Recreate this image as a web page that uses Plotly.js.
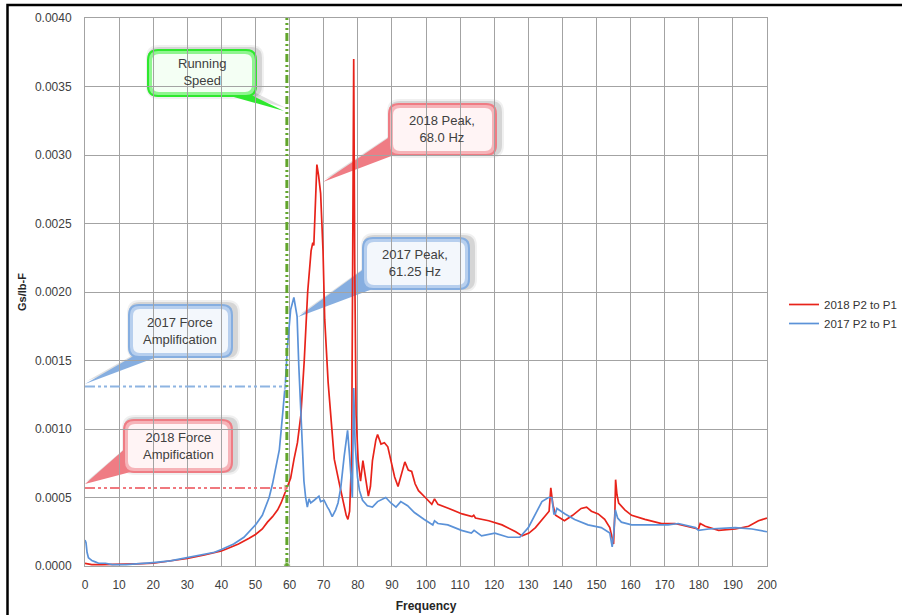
<!DOCTYPE html>
<html><head><meta charset="utf-8">
<script src="https://cdn.plot.ly/plotly-3.0.1.min.js"></script>
<style>html,body{margin:0;padding:0;background:#fff}#chart{width:902px;height:615px}</style>
</head><body><div id="chart"></div>
<script>
// ---------------- data ----------------
const seriesNames = ['2018 P2 to P1', '2017 P2 to P1'];

const freq2018 = [0,1,2,5,10,15,20,25,30,35,
  40,42,45,48,50,52,53.5,55,56.5,57.5,
  58.5,59.5,60.3,61.3,62.3,63.3,64.3,65.3,66.3,66.8,
  67.1,67.5,68,68.5,69.1,69.8,70.3,71.3,72.3,73.1,
  74.6,75.6,76.6,77.1,77.6,78.2,78.6,78.8,79.1,79.5,
  80.1,80.8,81.5,82.4,83.1,83.7,84.3,85.3,85.8,86.8,
  87.8,88.8,89.8,90.8,91.8,92.8,93.8,94.8,95.8,96.8,
  97.8,99.8,101.7,102.5,103.5,106.7,110.6,113.5,114,114.5,
  118.4,122.3,126.3,128.2,130.2,132.1,134.1,136.1,136.6,137.2,
  138,140.6,143,145.5,147.1,148.5,150.5,152.4,153.9,154.6,
  155,155.4,155.6,156,156.5,158.3,160.3,164.2,169.1,173,
  177,179.9,180.4,181.9,185.8,190.7,194.6,197.5,200];
const gain2018 = [0.00002,0.000015,0.00001,0.00001,0.00001,0.000015,0.00002,0.000035,0.000055,0.00008,
  0.00011,0.00013,0.00016,0.0002,0.00023,0.00027,0.00032,0.00036,0.00041,0.00046,
  0.00052,0.00058,0.00064,0.00078,0.0009,0.0011,0.0015,0.002,0.0023,0.00236,
  0.00234,0.0026,0.00293,0.00285,0.00272,0.0023,0.0018,0.00134,0.001,0.00078,
  0.0006,0.00048,0.00037,0.00034,0.0004,0.0008,0.0025,0.0037,0.0022,0.0011,
  0.00077,0.00062,0.00077,0.00061,0.00051,0.00058,0.00077,0.00092,0.00096,0.00089,
  0.0009,0.00087,0.00077,0.00065,0.00058,0.00067,0.00076,0.0007,0.00069,0.0006,
  0.00055,0.0005,0.00045,0.00049,0.00045,0.00042,0.00038,0.00036,0.00037,0.00035,
  0.00033,0.0003,0.00025,0.00022,0.00024,0.00028,0.00034,0.0004,0.00057,0.00045,
  0.00037,0.00033,0.00037,0.00042,0.00043,0.0004,0.00038,0.00034,0.00028,0.00019,
  0.00016,0.0004,0.00063,0.00052,0.00046,0.00041,0.00037,0.00034,0.00031,0.00031,
  0.00029,0.00027,0.00031,0.00029,0.00026,0.00027,0.00029,0.00033,0.00035];

const freq2017 = [0,0.3,0.6,1,1.5,2,3,4,6,8,
  12,16,20,25,30,35,38,40,41,43.6,
  46.6,50,52,54,55,56,57,58,58.8,59.3,
  60.3,61.25,62.2,62.7,63.2,63.7,64.2,64.7,65.2,65.7,
  66.2,67.2,68.2,68.6,69.1,70.1,71.1,71.6,72.5,73.5,
  74.2,75,76,77,77.6,78.1,78.4,78.8,79.2,79.9,
  80.5,81.4,82.8,84.3,85.8,88.2,89.7,91.2,92.6,94.6,
  96.6,99.5,102,102.5,103.5,106.4,110.4,113.3,114.1,116.3,
  120.2,124.1,127.5,130,132,134,135.9,136.9,137.5,137.9,
  138.4,140.8,143.6,147.5,151.4,153.9,154.6,155.1,155.5,156.2,
  157.3,160.3,171,174,179,179.9,182.9,190.7,195.6,200];
const gain2017 = [0.00019,0.00017,0.0001,0.00006,0.00005,0.00004,0.00003,0.00002,0.00002,0.00001,
  0.00001,0.000015,0.000025,0.000037,0.00006,0.000085,0.0001,0.00012,0.00013,0.00016,
  0.00021,0.0003,0.00037,0.0005,0.0006,0.00072,0.00085,0.00112,0.00135,0.00158,
  0.00187,0.00196,0.00182,0.00146,0.00114,0.0009,0.00062,0.0005,0.00043,0.00049,
  0.00046,0.00048,0.0005,0.00051,0.00047,0.00048,0.00043,0.00041,0.00036,0.00041,
  0.00046,0.00057,0.0008,0.00099,0.0008,0.00055,0.0005,0.0013,0.0009,0.00065,
  0.00055,0.00048,0.00044,0.00043,0.00047,0.0005,0.00046,0.00043,0.00047,0.00044,
  0.00039,0.00034,0.0003,0.00033,0.00031,0.0003,0.00026,0.00024,0.00026,0.00022,
  0.00024,0.00021,0.00021,0.00028,0.00038,0.00047,0.0005,0.0005,0.00038,0.00038,
  0.00042,0.00038,0.00034,0.0003,0.00028,0.00024,0.00014,0.00025,0.00041,0.00035,
  0.00032,0.0003,0.0003,0.00031,0.00028,0.00026,0.00027,0.00028,0.00027,0.00025];

const runningSpeedHz = 59.2;
const forceAmp2017 = 0.00131;
const forceAmp2018 = 0.00057;

const xTickVals = [0,10,20,30,40,50,60,70,80,90,100,110,120,130,140,150,160,170,180,190,200];
const yTickVals = [0,0.0005,0.001,0.0015,0.002,0.0025,0.003,0.0035,0.004];

const calloutTexts = ['Running<br>Speed', '2018 Peak,<br>68.0 Hz', '2017 Peak,<br>61.25 Hz',
  '2017 Force<br>Amplification', '2018 Force<br>Ampification'];

// ---------------- geometry ----------------
const W = 902, H = 615, ML = 85, MR = 135, MT = 18, MB = 49;
const PW = W - ML - MR, PH = H - MT - MB;
const px = x => (x - ML) / PW;
const py = y => (H - MB - y) / PH;
const pt = (x, y) => px(x).toFixed(5) + ',' + py(y).toFixed(5);

function roundRect(x0, y0, x1, y1, r) {
  return 'M' + pt(x0 + r, y0) + ' L' + pt(x1 - r, y0) + ' Q' + pt(x1, y0) + ' ' + pt(x1, y0 + r) +
    ' L' + pt(x1, y1 - r) + ' Q' + pt(x1, y1) + ' ' + pt(x1 - r, y1) +
    ' L' + pt(x0 + r, y1) + ' Q' + pt(x0, y1) + ' ' + pt(x0, y1 - r) +
    ' L' + pt(x0, y0 + r) + ' Q' + pt(x0, y0) + ' ' + pt(x0 + r, y0) + ' Z';
}
function poly(pts) {
  return 'M' + pts.map(p => pt(p[0], p[1])).join(' L') + ' Z';
}

const palettes = {
  green: {edge: '#2ee82e', mid: '#8ff58f', light: '#f4fff4'},
  red:   {edge: '#ef7c84', mid: '#f6b3b8', light: '#fff4f5'},
  blue:  {edge: '#86aee0', mid: '#b7cfee', light: '#f3f7fc'}
};

// box [x0,y0,x1,y1] in pixels, tail [[bx1,by1],[bx2,by2],[tipx,tipy]]
const callouts = [
  {box: [147, 49, 257, 97], tail: [[216, 92], [245, 92], [284, 111]], pal: 'green', tx: 202, ty: 72},
  {box: [388, 103, 497, 156], tail: [[394, 134], [402, 152], [323, 182]], pal: 'red', tx: 442, ty: 129},
  {box: [362, 237, 470, 290], tail: [[368, 266], [378, 287], [298, 317]], pal: 'blue', tx: 415, ty: 263},
  {box: [128, 304, 233, 358], tail: [[137, 354], [165, 354], [85, 384]], pal: 'blue', tx: 180, ty: 331},
  {box: [123, 419, 233, 473], tail: [[127, 447], [142, 469], [85, 484]], pal: 'red', tx: 178, ty: 446}
];

const shapes = [];
const annotations = [];
callouts.forEach((c, i) => {
  const [x0, y0, x1, y1] = c.box;
  const p = palettes[c.pal];
  const base = {type: 'path', xref: 'paper', yref: 'paper', layer: 'between', line: {width: 0}};
  // soft shadow
  shapes.push(Object.assign({}, base, {path: roundRect(x0 - 1, y0 - 4, x1 + 7, y1 + 2, 13), fillcolor: 'rgba(0,0,0,0.06)'}));
  shapes.push(Object.assign({}, base, {path: roundRect(x0 + 1, y0 - 2, x1 + 5, y1, 11), fillcolor: 'rgba(0,0,0,0.11)'}));
  shapes.push(Object.assign({}, base, {path: poly([[c.tail[0][0] + 3, c.tail[0][1] - 3], [c.tail[1][0] + 3, c.tail[1][1] - 3], [c.tail[2][0] + 2, c.tail[2][1] - 3]]), fillcolor: 'rgba(0,0,0,0.12)'}));
  // body + tail
  shapes.push(Object.assign({}, base, {path: poly(c.tail), fillcolor: p.edge}));
  shapes.push(Object.assign({}, base, {path: roundRect(x0, y0, x1, y1, 11), fillcolor: p.edge}));
  shapes.push(Object.assign({}, base, {path: roundRect(x0 + 2, y0 + 2, x1 - 2, y1 - 2, 9), fillcolor: p.mid}));
  shapes.push(Object.assign({}, base, {path: roundRect(x0 + 5, y0 + 5, x1 - 5, y1 - 5, 7), fillcolor: p.light}));
  annotations.push({xref: 'paper', yref: 'paper', x: px(c.tx), y: py(c.ty), text: calloutTexts[i],
    showarrow: false, xanchor: 'center', yanchor: 'middle',
    font: {family: 'Liberation Sans, Arial, sans-serif', size: 13, color: '#404040'}});
});

// outer black frame (only left and top edges fall inside the picture)
shapes.push({type: 'rect', xref: 'paper', yref: 'paper', x0: px(7.5), x1: px(1400), y0: py(1000), y1: py(5),
  line: {color: '#000', width: 2.5}, layer: 'above'});

const fontFam = 'Liberation Sans, Arial, sans-serif';

const traces = [
  {x: freq2018, y: gain2018, name: seriesNames[0], type: 'scatter', mode: 'lines',
    line: {color: '#e8231a', width: 1.7}},
  {x: freq2017, y: gain2017, name: seriesNames[1], type: 'scatter', mode: 'lines',
    line: {color: '#5b92d8', width: 1.7}},
  {x: [0, runningSpeedHz - 0.4], y: [forceAmp2017, forceAmp2017], type: 'scatter', mode: 'lines+markers',
    showlegend: false, line: {color: '#8db4e2', width: 2, dash: '10px,3px,3px,3px,3px,3px'},
    marker: {symbol: 'triangle-right', size: [0, 7], color: '#8db4e2'}},
  {x: [0, runningSpeedHz - 0.4], y: [forceAmp2018, forceAmp2018], type: 'scatter', mode: 'lines+markers',
    showlegend: false, line: {color: '#f0787e', width: 2, dash: '10px,3px,3px,3px,3px,3px'},
    marker: {symbol: 'triangle-right', size: [0, 7], color: '#f0787e'}},
  {x: [runningSpeedHz, runningSpeedHz], y: [0, 0.004], type: 'scatter', mode: 'lines+markers',
    showlegend: false, line: {color: '#62a52c', width: 3, dash: '8px,3px,2px,3px,2px,3px'},
    marker: {symbol: 'circle', size: [7, 0], color: '#62a52c'}}
];

const layout = {
  width: W, height: H,
  margin: {l: ML, r: MR, t: MT, b: MB, pad: 0, autoexpand: false},
  paper_bgcolor: '#fff', plot_bgcolor: '#fff',
  font: {family: fontFam, size: 12, color: '#404040'},
  showlegend: true,
  legend: {x: px(784), y: py(290), xanchor: 'left', yanchor: 'top',
    font: {family: fontFam, size: 11.5, color: '#333'}, bgcolor: 'rgba(0,0,0,0)', tracegroupgap: 0},
  xaxis: {range: [0, 200], tickvals: xTickVals, ticks: '', showgrid: true, gridcolor: '#a3a3a3', gridwidth: 1,
    zeroline: false, showline: true, linecolor: '#a3a3a3', mirror: true, ticklabelstandoff: 8,
    tickfont: {family: fontFam, size: 12, color: '#404040'},
    title: {text: 'Frequency', standoff: 10, font: {family: fontFam, size: 12, color: '#262626', weight: 'bold'}}},
  yaxis: {range: [0, 0.004], tickvals: yTickVals, tickformat: '.4f', ticks: '', showgrid: true, gridcolor: '#a3a3a3', gridwidth: 1,
    zeroline: false, showline: true, linecolor: '#a3a3a3', mirror: true, ticklabelstandoff: 10,
    tickfont: {family: fontFam, size: 12, color: '#404040'},
    title: {text: 'Gs/lb-F', standoff: 6, font: {family: fontFam, size: 11, color: '#262626', weight: 'bold'}}},
  shapes: shapes,
  annotations: annotations,
  hovermode: false
};

Plotly.newPlot('chart', traces, layout, {staticPlot: true, displayModeBar: false});
</script>
</body></html>
